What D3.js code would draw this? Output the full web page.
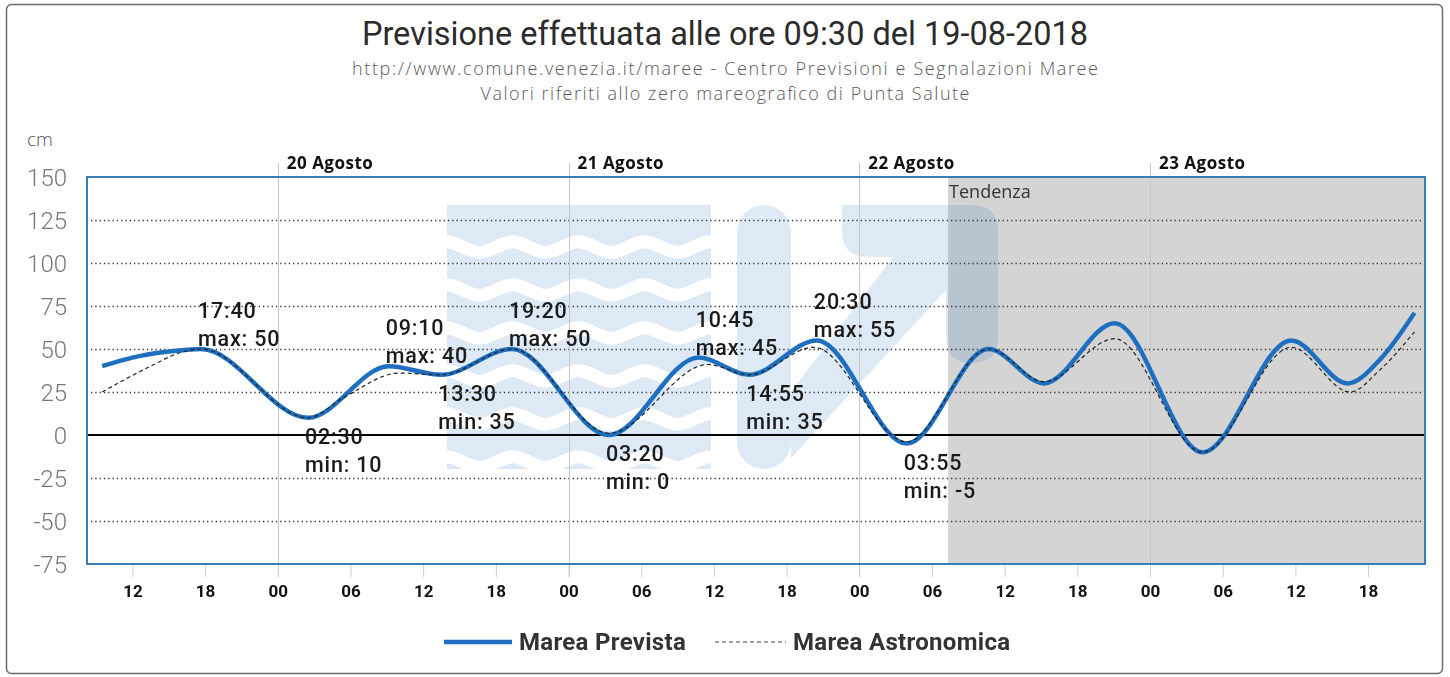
<!DOCTYPE html>
<html>
<head>
<meta charset="utf-8">
<script src="https://cdn.jsdelivr.net/npm/d3@7"></script>
<style>
  html, body { margin: 0; padding: 0; background: #fff; }
  svg { display: block; font-family: Roboto, "Open Sans", sans-serif; }
</style>
</head>
<body>
<svg id="chart" width="1450" height="677"></svg>
<script>
// ---- data -------------------------------------------------------------
const titleText = "Previsione effettuata alle ore 09:30 del 19-08-2018";
const subtitleLines = [
  "http://www.comune.venezia.it/maree - Centro Previsioni e Segnalazioni Maree",
  "Valori riferiti allo zero mareografico di Punta Salute"
];
const yTicks = [150, 125, 100, 75, 50, 25, 0, -25, -50, -75];
const dayStarts = ["2018-08-20 00:00", "2018-08-21 00:00", "2018-08-22 00:00", "2018-08-23 00:00"];
const dayLabels = ["20 Agosto", "21 Agosto", "22 Agosto", "23 Agosto"];
const tendenzaStart = "2018-08-22 07:20";
const legendLabels = ["Marea Prevista", "Marea Astronomica"];

// labelled highs and lows of the forecast
const extremeTimes = ["2018-08-19 17:40", "2018-08-20 02:30", "2018-08-20 09:10", "2018-08-20 13:30",
  "2018-08-20 19:20", "2018-08-21 03:20", "2018-08-21 10:45", "2018-08-21 14:55",
  "2018-08-21 20:30", "2018-08-22 03:55"];
const extremeValues = [50, 10, 40, 35, 50, 0, 45, 35, 55, -5];
const extremeKinds = ["max", "min", "max", "min", "max", "min", "max", "min", "max", "min"];

// remaining forecast points (start of run and trend period)
const previstaTimes = ["2018-08-19 09:30", "2018-08-19 12:00", "2018-08-19 15:00",
  "2018-08-22 10:40", "2018-08-22 15:15", "2018-08-22 21:05", "2018-08-23 04:20",
  "2018-08-23 11:40", "2018-08-23 16:20", "2018-08-23 19:00", "2018-08-23 21:50"];
const previstaValues = [40, 45, 48.5, 50, 30, 65, -10, 55, 30, 44, 71];

// astronomical tide
const astroTimes = ["2018-08-19 09:30", "2018-08-19 13:30", "2018-08-19 16:00", "2018-08-19 17:40",
  "2018-08-20 02:30", "2018-08-20 05:30", "2018-08-20 10:00", "2018-08-20 13:30", "2018-08-20 19:20",
  "2018-08-21 03:20", "2018-08-21 11:30", "2018-08-21 14:55", "2018-08-21 20:15",
  "2018-08-22 03:55", "2018-08-22 10:40", "2018-08-22 15:15", "2018-08-22 21:05",
  "2018-08-23 04:20", "2018-08-23 11:40", "2018-08-23 16:30", "2018-08-23 19:00", "2018-08-23 21:50"];
const astroValues = [25, 40, 48, 50, 10, 22, 36, 35, 50, 1, 41, 35, 51, -4, 50, 31, 56, -10, 51, 25, 38, 60];

// ---- setup ------------------------------------------------------------
const parse = d3.timeParse("%Y-%m-%d %H:%M");
const W = 1450, H = 677;
const plot = { left: 87, right: 1425, top: 177, bottom: 564 };

const x = d3.scaleTime()
  .domain([parse("2018-08-19 08:15"), parse("2018-08-23 22:42")])
  .range([plot.left, plot.right]);
const y = d3.scaleLinear().domain([-75, 150]).range([plot.bottom, plot.top]);

const extremes = extremeTimes.map((t, i) => ({ t: parse(t), v: extremeValues[i], kind: extremeKinds[i] }));
const prevista = extremes.map(d => ({ t: d.t, v: d.v }))
  .concat(previstaTimes.map((t, i) => ({ t: parse(t), v: previstaValues[i] })))
  .sort((a, b) => a.t - b.t);
const astro = astroTimes.map((t, i) => ({ t: parse(t), v: astroValues[i] }));

const svg = d3.select("#chart");

// outer frame
svg.append("rect")
  .attr("x", 6.5).attr("y", 4.5).attr("width", W - 14).attr("height", H - 8)
  .attr("rx", 5).attr("fill", "#fff").attr("stroke", "#6b6b6b").attr("stroke-width", 1.5);

// titles
svg.append("text").attr("x", 725).attr("y", 45).attr("text-anchor", "middle")
  .attr("font-size", 32.5).attr("fill", "#2b2b2b").text(titleText);
const subWidths = [746, 489];
svg.selectAll("text.sub").data(subtitleLines).join("text").attr("class", "sub")
  .attr("x", 725).attr("y", (d, i) => 75 + i * 25).attr("text-anchor", "middle")
  .attr("font-family", "'Open Sans', sans-serif")
  .attr("font-size", 18).attr("font-weight", 300).attr("fill", "#5a5a5a")
  .attr("textLength", (d, i) => subWidths[i]).attr("lengthAdjust", "spacing")
  .text(d => d);

svg.append("text").attr("x", 27).attr("y", 146).attr("font-size", 19).attr("font-weight", 300)
  .attr("font-family", "'Open Sans', sans-serif").attr("fill", "#555").text("cm");

// trend period background
svg.append("rect")
  .attr("x", x(parse(tendenzaStart))).attr("y", plot.top)
  .attr("width", plot.right - x(parse(tendenzaStart))).attr("height", plot.bottom - plot.top)
  .attr("fill", "#d4d4d4");

// ---- watermark logo ----------------------------------------------------
const defs = svg.append("defs");
const mask = defs.append("mask").attr("id", "waveMask");
mask.append("rect").attr("x", 0).attr("y", 0).attr("width", W).attr("height", H).attr("fill", "#fff");
const waveGen = d3.line().curve(d3.curveBasis);
for (let k = 0; k < 6; k++) {
  const y0 = 247 + k * 43;
  const pts = [];
  for (let xx = 430; xx <= 730; xx += 16.5) {
    const phase = Math.round((xx - 430) / 16.5) % 4;
    pts.push([xx, y0 + (phase === 1 ? -8 : phase === 3 ? 8 : 0)]);
  }
  mask.append("path").attr("d", waveGen(pts)).attr("fill", "none")
    .attr("stroke", "#000").attr("stroke-width", 13);
}
const logo = svg.append("g").attr("opacity", 0.15).attr("fill", "#1e6ebe");
logo.append("rect").attr("x", 447).attr("y", 205).attr("width", 264).attr("height", 264)
  .attr("mask", "url(#waveMask)");
logo.append("rect").attr("x", 737).attr("y", 205).attr("width", 54).attr("height", 264).attr("rx", 27);
logo.append("path").attr("d",
  "M842,205 H972 Q998,205 998,231 V337 Q998,363 972,363 Q946,363 946,337 V290 L791,458 V392 L893,257 H868 Q842,257 842,231 Z");

// ---- grid ---------------------------------------------------------------
const gridVals = yTicks.filter(v => v !== 0 && v !== 150 && v !== -75);
svg.append("g").selectAll("line").data(gridVals).join("line")
  .attr("x1", plot.left + 4).attr("x2", plot.right - 4)
  .attr("y1", d => y(d) + 0.5).attr("y2", d => y(d) + 0.5)
  .attr("stroke", "#333").attr("stroke-width", 1.3).attr("stroke-dasharray", "1.3,3");

// day separators
const days = dayStarts.map(parse);
svg.append("g").selectAll("line").data(days).join("line")
  .attr("x1", d => Math.round(x(d)) + 0.5).attr("x2", d => Math.round(x(d)) + 0.5)
  .attr("y1", 163).attr("y2", plot.bottom + 13)
  .attr("stroke", "#c6c6c6").attr("stroke-width", 1);

svg.append("g").selectAll("text").data(days).join("text")
  .attr("x", d => x(d) + 9).attr("y", 169)
  .attr("font-family", "'Open Sans', sans-serif")
  .attr("font-size", 17).attr("font-weight", 700).attr("letter-spacing", 0.5).attr("fill", "#111")
  .text((d, i) => dayLabels[i]);

// zero line
svg.append("line").attr("x1", plot.left).attr("x2", plot.right)
  .attr("y1", y(0)).attr("y2", y(0)).attr("stroke", "#000").attr("stroke-width", 2);

// plot border
svg.append("rect").attr("x", plot.left).attr("y", plot.top)
  .attr("width", plot.right - plot.left).attr("height", plot.bottom - plot.top)
  .attr("fill", "none").attr("stroke", "#3b7bb8").attr("stroke-width", 2);

// y axis labels
svg.append("g").selectAll("text").data(yTicks).join("text")
  .attr("x", 67).attr("y", d => y(d) + 8.5).attr("text-anchor", "end")
  .attr("font-size", 24).attr("font-weight", 300).attr("fill", "#777")
  .text(d => d);

// x axis: 6-hour ticks
const xAxis = d3.axisBottom(x).ticks(d3.timeHour.every(6)).tickFormat(d3.timeFormat("%H"))
  .tickSize(12).tickPadding(8);
const gx = svg.append("g").attr("transform", `translate(0,${plot.bottom + 1})`).call(xAxis);
gx.select(".domain").remove();
gx.selectAll(".tick line").attr("stroke", "#cfcfcf");
gx.selectAll(".tick text").attr("font-size", 17).attr("font-weight", 700).attr("fill", "#111")
  .attr("font-family", "Roboto, sans-serif");

// Tendenza label
svg.append("text").attr("x", x(parse(tendenzaStart)) + 1).attr("y", 198)
  .attr("font-family", "'Open Sans', sans-serif")
  .attr("font-size", 18).attr("fill", "#333").text("Tendenza");

// ---- series -------------------------------------------------------------
const line = d3.line().x(d => x(d.t)).y(d => y(d.v)).curve(d3.curveMonotoneX);
svg.append("path").datum(prevista).attr("d", line).attr("fill", "none")
  .attr("stroke", "#1f6fc0").attr("stroke-width", 4.5).attr("stroke-linejoin", "round");
svg.append("path").datum(astro).attr("d", line).attr("fill", "none")
  .attr("stroke", "#222").attr("stroke-width", 1.2).attr("stroke-dasharray", "4,3");

// extreme labels
const fmtTime = d3.timeFormat("%H:%M");
const lab = svg.append("g").attr("font-size", 21.5).attr("font-weight", 500)
  .attr("letter-spacing", 0.8).attr("fill", "#1a1a1a");
extremes.forEach(d => {
  const px = x(d.t) - 3, py = y(d.v);
  const b1 = d.kind === "max" ? py - 31 : py + 26;
  lab.append("text").attr("x", px).attr("y", b1).text(fmtTime(d.t));
  lab.append("text").attr("x", px).attr("y", b1 + 28).text(`${d.kind}: ${d.v}`);
});

// ---- legend ---------------------------------------------------------------
const lg = svg.append("g").attr("font-size", 24).attr("font-weight", 700)
  .attr("letter-spacing", 0.3).attr("fill", "#333");
lg.append("line").attr("x1", 444).attr("x2", 512).attr("y1", 642).attr("y2", 642)
  .attr("stroke", "#1f6fc0").attr("stroke-width", 4.5);
lg.append("text").attr("x", 519).attr("y", 650).text(legendLabels[0]);
lg.append("line").attr("x1", 715).attr("x2", 786).attr("y1", 642).attr("y2", 642)
  .attr("stroke", "#444").attr("stroke-width", 1.2).attr("stroke-dasharray", "4,3");
lg.append("text").attr("x", 793).attr("y", 650).text(legendLabels[1]);
</script>
</body>
</html>
